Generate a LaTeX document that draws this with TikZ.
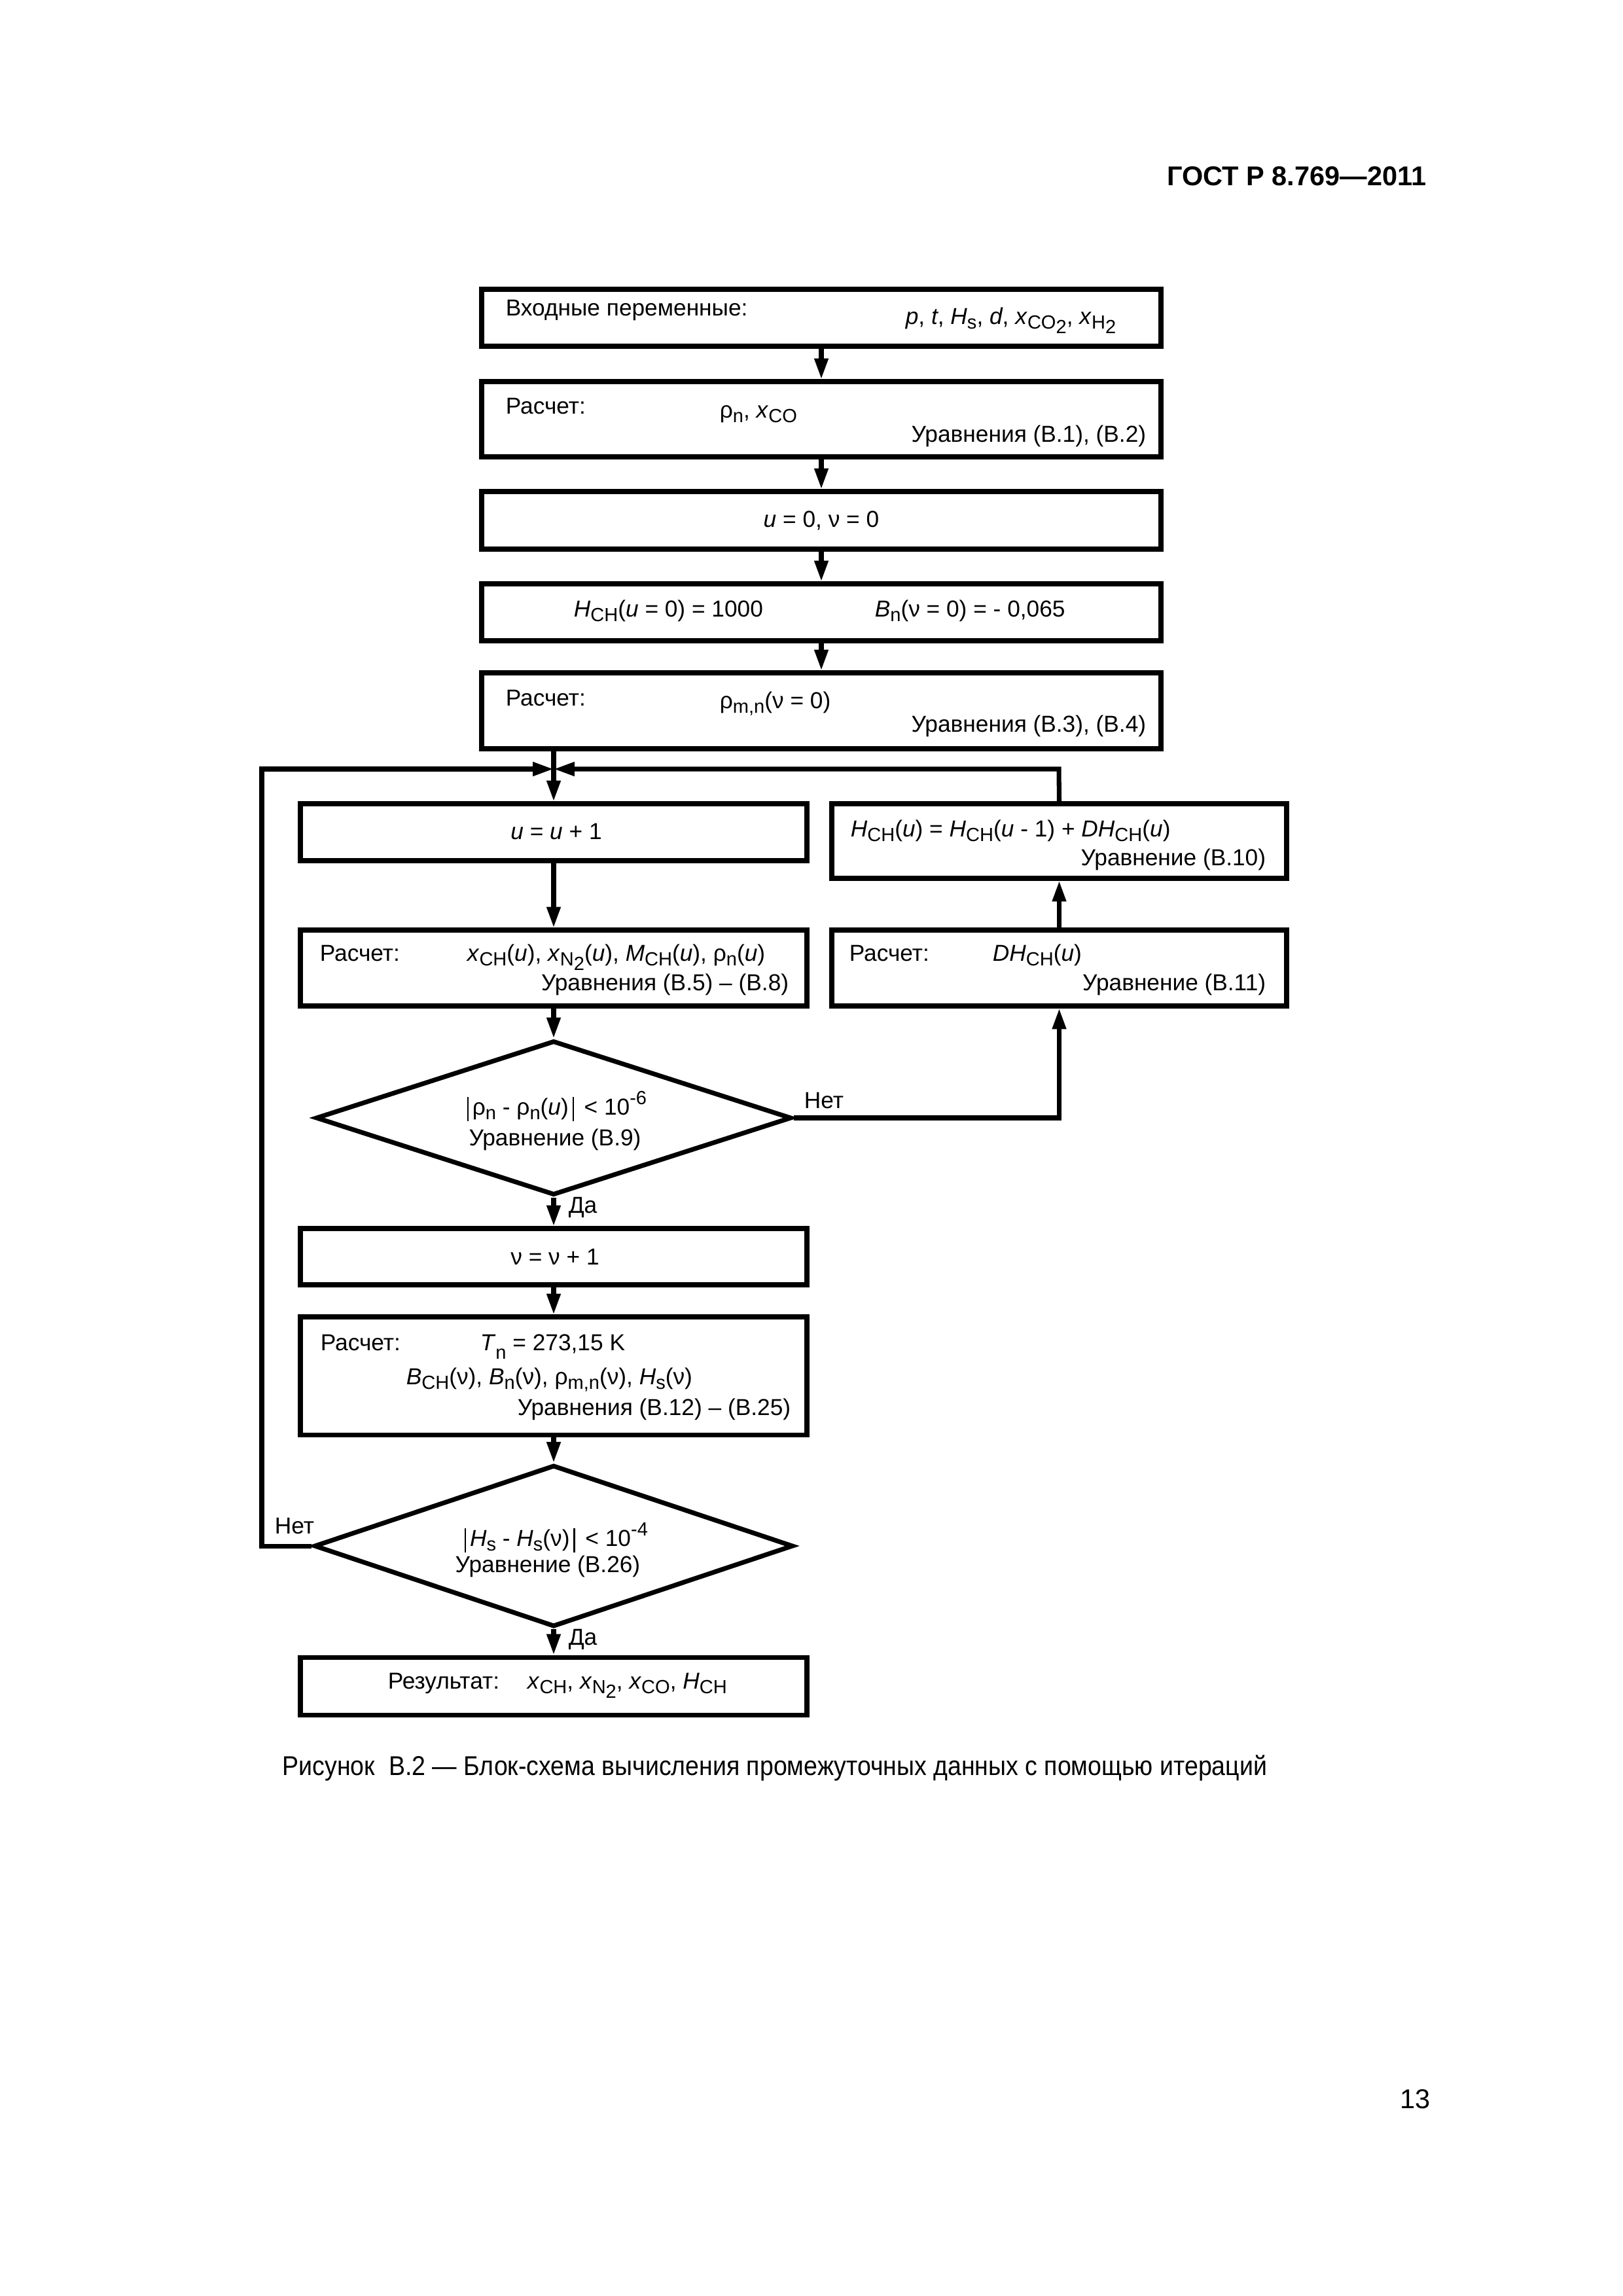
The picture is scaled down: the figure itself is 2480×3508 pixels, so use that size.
\documentclass[tikz,border=0pt]{standalone}
\usepackage{fontspec}
\setmainfont{Liberation Sans}
\usetikzlibrary{arrows.meta,shapes.geometric,fit}
\newcommand{\sbs}[1]{\raisebox{-0.42ex}{\fontsize{7}{7}\selectfont #1}}
\newcommand{\sps}[1]{\raisebox{0.85ex}{\fontsize{7}{7}\selectfont #1}}
\newcommand{\vbr}{\rule[-0.28em]{0.5pt}{1.05em}}
\begin{document}
\begin{tikzpicture}[x=0.084667mm, y=-0.084667mm,
  font=\fontsize{8.5}{10}\selectfont,
  box/.style={draw, line width=1.7pt, inner sep=0pt},
  dia/.style={diamond, draw, line width=1.7pt, inner sep=0pt},
  conn/.style={line width=1.7pt},
  arr/.style={conn, -{Triangle[length=2.7mm,width=1.7mm]}},
  txt/.style={inner sep=0pt}]
\fill[white] (0,0) rectangle (2480,3508);
\useasboundingbox (0,0) rectangle (2480,3508);

% header and page number
\node[txt, anchor=base east, font=\fontsize{10}{12}\selectfont\bfseries] (hdr) at (2180,283) {ГОСТ Р 8.769—2011};
\node[txt, anchor=base east, font=\fontsize{10}{12}\selectfont] (pg) at (2186,3221) {13};

% top column boxes
\node[box, fit={(736,442) (1774,529)}] (b1) {};
\node[box, fit={(736,583) (1774,698)}] (b2) {};
\node[box, fit={(736,751) (1774,839)}] (b3) {};
\node[box, fit={(736,892) (1774,979)}] (b4) {};
\node[box, fit={(736,1028) (1774,1144)}] (b5) {};

\node[txt, anchor=base west] (b1l) at (772,482) {Входные переменные:};
\node[txt, anchor=base east] (b1r) at (1706,495) {\textit{p}, \textit{t}, \textit{H}\sbs{s}, \textit{d}, \textit{x}\sbs{CO\sbs{2}}, \textit{x}\sbs{H\sbs{2}}};

\node[txt, anchor=base west] (b2l) at (772,632) {Расчет:};
\node[txt, anchor=base west] (b2m) at (1099,638) {ρ\sbs{n}, \textit{x}\sbs{CO}};
\node[txt, anchor=base east] (b2r) at (1752,675) {Уравнения (В.1), (В.2)};

\node[txt, anchor=base] (b3t) at (1255,805) {\textit{u} = 0, ν = 0};

\node[txt, anchor=base west] (b4l) at (876,942) {\textit{H}\sbs{CH}(\textit{u} = 0) = 1000};
\node[txt, anchor=base west] (b4r) at (1336,942) {\textit{B}\sbs{n}(ν = 0) = - 0,065};

\node[txt, anchor=base west] (b5l) at (772,1078) {Расчет:};
\node[txt, anchor=base west] (b5m) at (1099,1082) {ρ\sbs{m,n}(ν = 0)};
\node[txt, anchor=base east] (b5r) at (1752,1118) {Уравнения (В.3), (В.4)};

% loop boxes
\node[box, fit={(459,1228) (1233,1315)}] (bU) {};
\node[box, fit={(1271,1228) (1966,1342)}] (bH) {};
\node[box, fit={(459,1421) (1233,1537)}] (bX) {};
\node[box, fit={(1271,1421) (1966,1537)}] (bD) {};

\node[txt, anchor=base] (bUt) at (850,1282) {\textit{u} = \textit{u} + 1};

\node[txt, anchor=base west] (bHt) at (1299,1278) {\textit{H}\sbs{CH}(\textit{u}) = \textit{H}\sbs{CH}(\textit{u} - 1) + \textit{DH}\sbs{CH}(\textit{u})};
\node[txt, anchor=base east] (bHr) at (1935,1322) {Уравнение (В.10)};

\node[txt, anchor=base west] (bXl) at (488,1468) {Расчет:};
\node[txt, anchor=base west] (bXm) at (713,1468) {\textit{x}\sbs{CH}(\textit{u}), \textit{x}\sbs{N\sbs{2}}(\textit{u}), \textit{M}\sbs{CH}(\textit{u}), ρ\sbs{n}(\textit{u})};
\node[txt, anchor=base east] (bXr) at (1206,1513) {Уравнения (В.5) – (В.8)};

\node[txt, anchor=base west] (bDl) at (1297,1468) {Расчет:};
\node[txt, anchor=base west] (bDm) at (1516,1468) {\textit{DH}\sbs{CH}(\textit{u})};
\node[txt, anchor=base east] (bDr) at (1935,1513) {Уравнение (В.11)};

% decision 1
\node[dia, minimum width=61.55mm, minimum height=19.98mm] (d1) at (846,1708) {};
\node[txt, anchor=base] (d1a) at (851,1703) {\vbr\,ρ\sbs{n} - ρ\sbs{n}(\textit{u})\,\vbr\hspace{0.45em}< 10\sps{-6}};
\node[txt, anchor=base] (d1b) at (848,1750) {Уравнение (В.9)};
\node[txt, anchor=base west] (no1) at (1228,1693) {Нет};
\node[txt, anchor=base west] (yes1) at (868,1853) {Да};

% lower boxes
\node[box, fit={(459,1877) (1233,1963)}] (bN) {};
\node[txt, anchor=base] (bNt) at (848,1932) {ν = ν + 1};

\node[box, fit={(459,2012) (1233,2192)}] (bT) {};
\node[txt, anchor=base west] (bTl) at (489,2063) {Расчет:};
\node[txt, anchor=base west] (bTm) at (733,2063) {\textit{T}\raisebox{-0.3ex}{\sbs{n}} = 273,15 K};
\node[txt, anchor=base west] (bTn) at (620,2115) {\textit{B}\sbs{CH}(ν), \textit{B}\sbs{n}(ν), ρ\sbs{m,n}(ν), \textit{H}\sbs{s}(ν)};
\node[txt, anchor=base east] (bTr) at (1209,2162) {Уравнения (В.12) – (В.25)};

% decision 2
\node[dia, minimum width=61.98mm, minimum height=20.91mm] (d2) at (846,2362) {};
\node[txt, anchor=base] (d2a) at (850,2362) {\vbr\,\textit{H}\sbs{s} - \textit{H}\sbs{s}(ν)\,\vbr\hspace{0.45em}< 10\sps{-4}};
\node[txt, anchor=base] (d2b) at (837,2402) {Уравнение (В.26)};
\node[txt, anchor=base west] (no2) at (419,2343) {Нет};
\node[txt, anchor=base west] (yes2) at (868,2513) {Да};

% result
\node[box, fit={(459,2532) (1233,2620)}] (bR) {};
\node[txt, anchor=base west] (bRl) at (592,2580) {Результат:};
\node[txt, anchor=base west] (bRm) at (805,2580) {\textit{x}\sbs{CH}, \textit{x}\sbs{N\sbs{2}}, \textit{x}\sbs{CO}, \textit{H}\sbs{CH}};

% caption
\node[txt, anchor=base west, font=\fontsize{10}{12}\selectfont] (cap) at (431,2712) {\scalebox{0.903}[1]{Рисунок\ \ В.2 — Блок-схема вычисления промежуточных данных с помощью итераций}};

% connectors
\coordinate (J) at (846,1175);
\coordinate (LL) at (400,1175);
\coordinate (RR) at (1618,1175);

\draw[arr] (b1) -- (b2);
\draw[arr] (b2) -- (b3);
\draw[arr] (b3) -- (b4);
\draw[arr] (b4) -- (b5);
\draw[conn] (b5.south -| J) -- (J);
\draw[arr] (d2.west) -| (LL) -- (J);
\draw[arr] (bH.north) -- (RR) -- (J);
\draw[arr] (J) -- (bU.north -| J);
\draw[arr] (bU.south -| J) -- (bX.north -| J);
\draw[arr] (bX.south -| J) -- (d1.north);
\draw[arr] (d1.east) -| (bD.south);
\draw[arr] (bD) -- (bH);
\draw[arr] (d1.south) -- (bN.north -| d1.south);
\draw[arr] (bN.south -| J) -- (bT.north -| J);
\draw[arr] (bT.south -| J) -- (d2.north);
\draw[arr] (d2.south) -- (bR.north -| d2.south);
\end{tikzpicture}
\end{document}
